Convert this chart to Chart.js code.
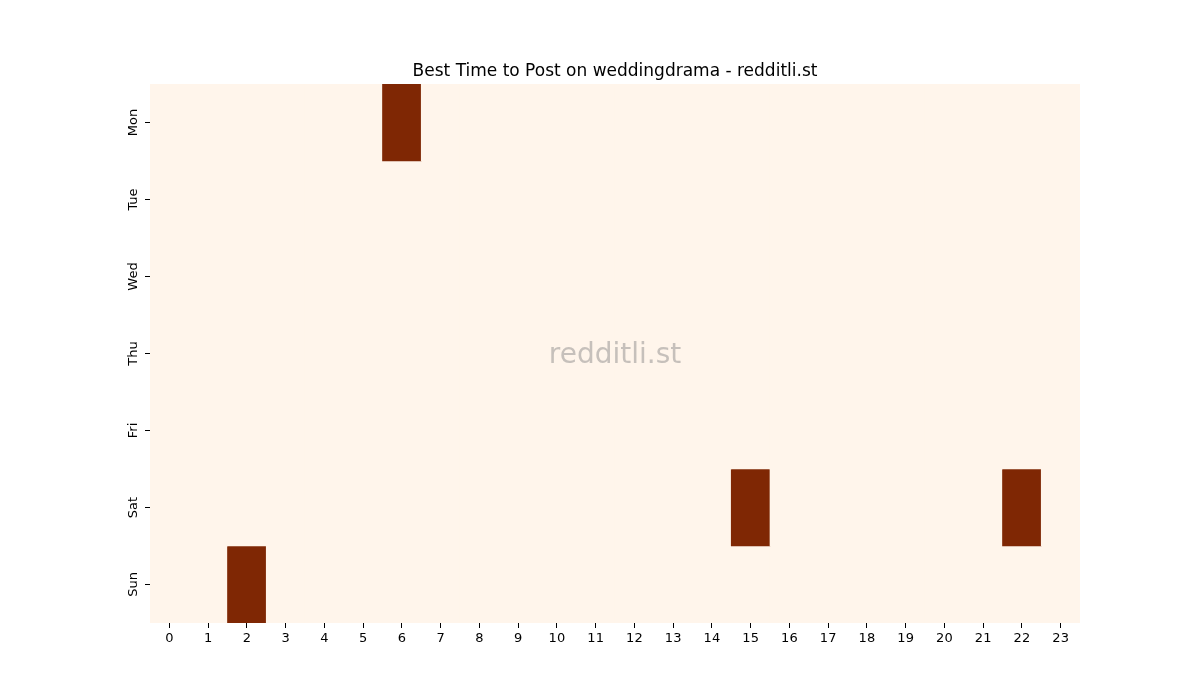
<!DOCTYPE html>
<html>
<head>
<meta charset="utf-8">
<script src="https://cdn.jsdelivr.net/npm/chart.js@4/dist/chart.umd.min.js"></script>
<style>
  html, body { margin: 0; padding: 0; background: #fff; }
  #wrap { width: 1200px; height: 700px; }
</style>
</head>
<body>
<div id="wrap"><canvas id="myChart" width="1200" height="700"></canvas></div>
<script>
const hours = ["0","1","2","3","4","5","6","7","8","9","10","11","12","13","14","15","16","17","18","19","20","21","22","23"];
const days = ["Mon", "Tue", "Wed", "Thu", "Fri", "Sat", "Sun"];

// posts per hour for each day
const mon = [0,0,0,0,0,0,1,0,0,0,0,0,0,0,0,0,0,0,0,0,0,0,0,0];
const tue = [0,0,0,0,0,0,0,0,0,0,0,0,0,0,0,0,0,0,0,0,0,0,0,0];
const wed = [0,0,0,0,0,0,0,0,0,0,0,0,0,0,0,0,0,0,0,0,0,0,0,0];
const thu = [0,0,0,0,0,0,0,0,0,0,0,0,0,0,0,0,0,0,0,0,0,0,0,0];
const fri = [0,0,0,0,0,0,0,0,0,0,0,0,0,0,0,0,0,0,0,0,0,0,0,0];
const sat = [0,0,0,0,0,0,0,0,0,0,0,0,0,0,0,1,0,0,0,0,0,0,1,0];
const sun = [0,0,1,0,0,0,0,0,0,0,0,0,0,0,0,0,0,0,0,0,0,0,0,0];

const rows = [mon, tue, wed, thu, fri, sat, sun];

// Oranges colormap stops
const oranges = [
  [255,245,235],[254,230,206],[253,208,162],[253,174,107],
  [253,141,60],[241,105,19],[217,72,1],[166,54,3],[127,39,4]
];

function colorFor(v, max) {
  let t = max > 0 ? v / max : 0;
  let pos = t * (oranges.length - 1);
  let i = Math.min(Math.floor(pos), oranges.length - 2);
  let f = pos - i;
  let c = oranges[i].map((a, k) => Math.round(a + (oranges[i + 1][k] - a) * f));
  return "rgb(" + c.join(",") + ")";
}

let maxVal = Math.max(...rows.map((r) => Math.max(...r)));

let datasets = rows.map((r, d) => {
  return {
    label: days[d],
    data: r.map(() => [d, d + 1]),
    backgroundColor: r.map((v) => colorFor(v, maxVal)),
    borderWidth: 0,
    barPercentage: 1,
    categoryPercentage: 1,
    grouped: false,
  };
});

const extras = {
  id: "extras",
  beforeDatasetsDraw(chart) {
    const c = chart.ctx;
    const a = chart.chartArea;
    c.save();
    c.fillStyle = colorFor(0, maxVal);
    c.fillRect(a.left, a.top, a.right - a.left, a.bottom - a.top);
    c.restore();
  },
  afterDraw(chart) {
    const c = chart.ctx;
    const a = chart.chartArea;
    c.save();
    c.fillStyle = "#000";
    c.font = "17px 'DejaVu Sans'";
    c.textAlign = "center";
    c.textBaseline = "alphabetic";
    c.fillText("Best Time to Post on weddingdrama - redditli.st", (a.left + a.right) / 2, 76);
    c.fillStyle = "rgba(128,128,128,0.45)";
    c.font = "28px 'DejaVu Sans'";
    c.textBaseline = "middle";
    c.fillText("redditli.st", (a.left + a.right) / 2, (a.top + a.bottom) / 2 + 2);
    c.restore();
  },
};

const ctx = document.getElementById("myChart").getContext("2d");

const myChart = new Chart(ctx, {
  type: "bar",
  data: {
    labels: hours,
    datasets: datasets,
  },
  options: {
    responsive: false,
    animation: false,
    layout: {
      padding: { left: 0, right: 120, top: 84, bottom: 0 },
    },
    plugins: {
      legend: { display: false },
      tooltip: { enabled: false },
    },
    scales: {
      x: {
        offset: true,
        grid: { display: true, drawOnChartArea: false, offset: false, tickLength: 5, color: "#000", lineWidth: 1 },
        border: { display: false },
        ticks: {
          color: "#000",
          font: { family: "DejaVu Sans", size: 13 },
          maxRotation: 0,
          minRotation: 0,
          padding: 3,
        },
        afterFit: (scale) => {
          scale.height = 77;
        },
      },
      y: {
        min: 0,
        max: 7,
        reverse: true,
        grid: { display: true, drawOnChartArea: false, tickLength: 5, color: "#000", lineWidth: 1 },
        border: { display: false },
        afterBuildTicks: (scale) => {
          scale.ticks = days.map((d, i) => ({ value: i + 0.5 }));
        },
        ticks: {
          color: "#000",
          font: { family: "DejaVu Sans", size: 13 },
          minRotation: 90,
          maxRotation: 90,
          crossAlign: "center",
          padding: -3,
          callback: (v) => days[Math.floor(v)],
        },
        afterFit: (scale) => {
          scale.width = 150;
        },
      },
    },
  },
  plugins: [extras],
});
</script>
</body>
</html>
